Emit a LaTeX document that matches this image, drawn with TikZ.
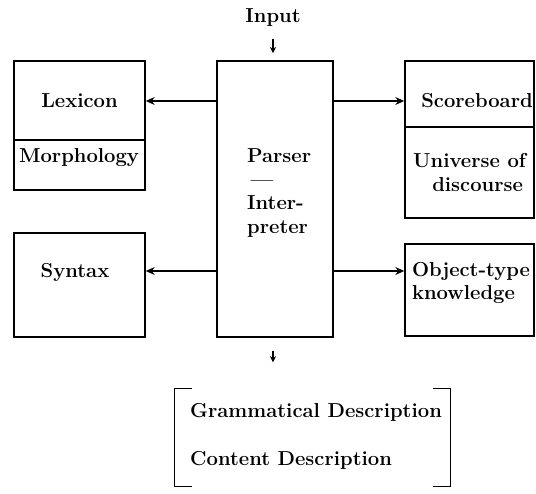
\documentclass[tikz,border=0pt]{standalone}
\usetikzlibrary{arrows.meta}
\begin{document}
\begin{tikzpicture}[x=0.02cm,y=-0.02cm,
    font=\fontsize{11.5}{13.6}\selectfont\bfseries,
    box/.style={rectangle,draw,line width=1pt,inner sep=0pt},
    link/.style={-{Stealth[length=5pt,width=4.5pt]},line width=0.6pt}]
  \useasboundingbox (0,0) rectangle (536,493);

  % boxes
  \node(lexicon)[box,minimum width=2.62cm,minimum height=1.58cm] at (79.5,100.5) {Lexicon};
  \node(morph)[box,minimum width=2.62cm,minimum height=1cm] at (79.5,165) {};
  \node(syntax)[box,minimum width=2.62cm,minimum height=2.08cm] at (79.5,285) {};
  \node(parser)[box,minimum width=2.32cm,minimum height=5.52cm] at (275,199) {};
  \node(score)[box,minimum width=2.58cm,minimum height=1.32cm] at (469.5,94) {};
  \node(universe)[box,minimum width=2.58cm,minimum height=1.82cm,align=center] at (469.5,172.5) {Universe of\\\hspace*{0.8em}discourse};
  \node(object)[box,minimum width=2.58cm,minimum height=1.84cm] at (469.5,290) {};

  % texts
  \node(input) at (273,18) {Input};
  \node(morphtxt) at (79,158) {Morphology};
  \node(syntaxtxt) at (75,272) {Syntax};
  \node(parsertxt)[align=left,anchor=west] at (241,193) {Parser\\\hspace*{2pt}---\\Inter-\\preter};
  \node(scoretxt) at (477,101) {Scoreboard};
  \node(objecttxt)[align=left] at (471,283) {Object-type\\knowledge};

  % output
  \node(output)[minimum width=5.5cm,minimum height=1.94cm] at (312.5,437.5) {};
  \node(gram)[anchor=west] at (184,412) {Grammatical Description};
  \node(content)[anchor=west] at (184,460) {Content Description};
  \draw[line width=0.9pt] ([xshift=10]output.north west) -- (output.north west) -- (output.south west) -- ([xshift=10]output.south west);
  \draw[line width=0.9pt] ([xshift=-10]output.north east) -- (output.north east) -- (output.south east) -- ([xshift=-10]output.south east);

  \coordinate(hi) at (0,101);
  \coordinate(lo) at (0,271);

  \draw[link] (parser.west |- hi) -- (lexicon.east |- hi);
  \draw[link] (parser.west |- lo) -- (syntax.east |- lo);
  \draw[link] (parser.east |- hi) -- (score.west |- hi);
  \draw[link] (parser.east |- lo) -- (object.west |- lo);
  \draw[link,-{Stealth[length=3.5pt,width=3.5pt]},shorten <=3.5pt,shorten >=4pt] (input.south) -- (input.south |- parser.north);
  \draw[link,-{Stealth[length=3.5pt,width=3.5pt]},shorten <=7.5pt,shorten >=15pt] (parser.south -| input) -- (output.north -| input);
\end{tikzpicture}
\end{document}
